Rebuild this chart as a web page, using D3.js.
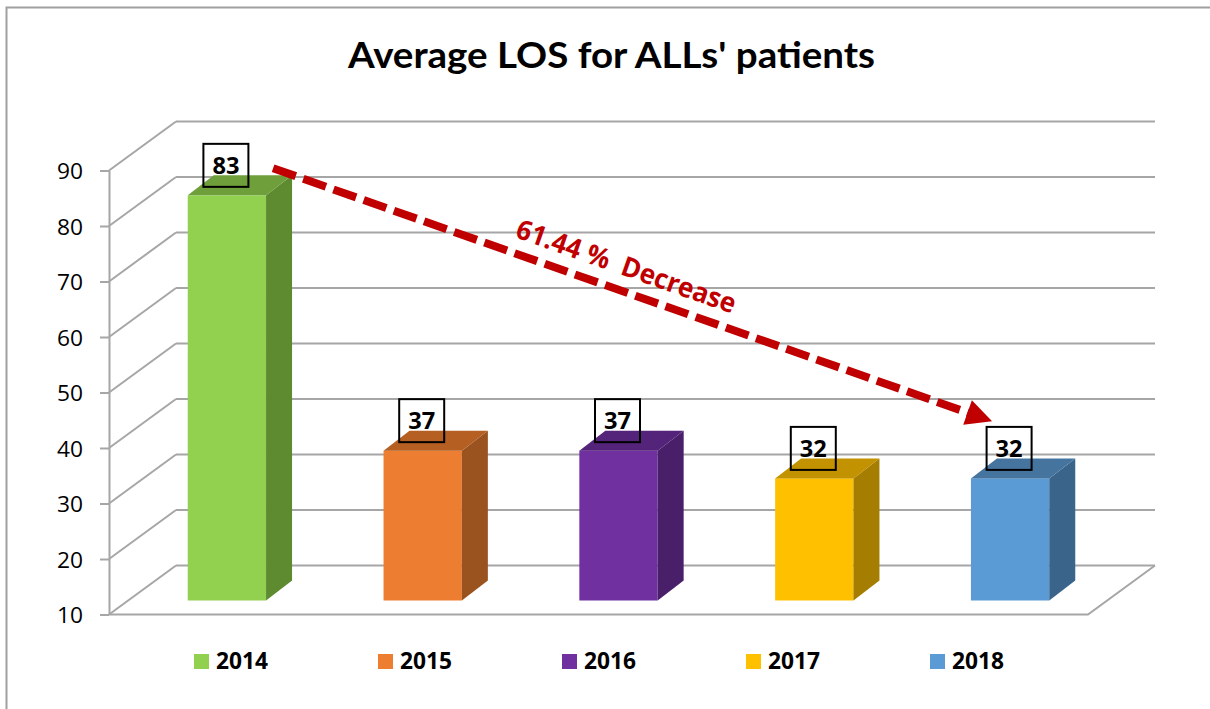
<!DOCTYPE html>
<html><head><meta charset="utf-8">
<script src="https://cdn.jsdelivr.net/npm/d3@7"></script>
<style>html,body{margin:0;padding:0;background:#fff;} svg{display:block;}</style>
</head><body><svg id="c" width="1210" height="709"></svg>
<script>
const titleText = "Average LOS for ALLs' patients";
const years = ["2014","2015","2016","2017","2018"];
const values = [83,37,37,32,32];
const frontColors = ["#92D050","#ED7D31","#7030A0","#FFC000","#5B9BD5"];
const topColors   = ["#6F9F3B","#B55F23","#54237A","#C29200","#45749F"];
const sideColors  = ["#5E8A30","#9A521E","#4A1F69","#A57D00","#3A648A"];
const yTicks = [10,20,30,40,50,60,70,80,90];
const annotationText = "61.44 %  Decrease";
const arrowFrom = {year:"2014", pos:1.09, value:87.9};
const arrowTo   = {year:"2018", pos:0.27, value:42.3};

const FONT = "'Open Sans', Lato, sans-serif";
const TFONT = "Lato, 'Open Sans', sans-serif";
const svg = d3.select("#c");
const grid = "#A6A6A6";

function fitW(sel, target){
  sel.attr("textLength", target).attr("lengthAdjust","spacingAndGlyphs");
}

// border
svg.append("path").attr("d","M6.5,709 V7.5 H1210").attr("fill","none").attr("stroke","#A0A0A0").attr("stroke-width",2);

// title
const t = svg.append("text").attr("x",611.5).attr("y",68).attr("text-anchor","middle")
  .attr("font-family",TFONT).attr("font-weight","bold").attr("font-size",37).attr("fill","#000").text(titleText);
fitW(t, 527);

// scales
const x = d3.scaleBand().domain(years).range([109,1088]).paddingInner(0.6).paddingOuter(0.3);
const y = d3.scaleLinear().domain([10,90]).range([614.5,170.5]);
const wall = {dx:67, dy:-49};
const bf = {dx:20, dy:-14};
const depth = {dx:26, dy:-20};
const x0 = 109, x1 = 1088;

const g = svg.append("g");
yTicks.forEach(v=>{
  g.append("line").attr("x1",x0+wall.dx).attr("x2",x1+wall.dx).attr("y1",y(v)+wall.dy).attr("y2",y(v)+wall.dy)
   .attr("stroke",grid).attr("stroke-width",2);
  g.append("line").attr("x1",x0).attr("x2",x0+wall.dx).attr("y1",y(v)).attr("y2",y(v)+wall.dy)
   .attr("stroke",grid).attr("stroke-width",2);
});
g.append("path").attr("d",`M${x0},${y(10)} H${x1} L${x1+wall.dx},${y(10)+wall.dy}`)
  .attr("fill","none").attr("stroke",grid).attr("stroke-width",2);

// axis
const axis = d3.axisLeft(y).tickValues(yTicks).tickSize(9).tickSizeOuter(0).tickPadding(17);
const ag = svg.append("g").attr("transform",`translate(${x0},0)`).call(axis);
ag.select(".domain").attr("stroke",grid).attr("stroke-width",2);
ag.selectAll(".tick line").attr("stroke",grid).attr("stroke-width",2);
ag.selectAll(".tick text").attr("font-family",FONT).attr("font-size",22.5).attr("fill","#000")
  .attr("dy","0.36em").attr("textLength",26).attr("lengthAdjust","spacingAndGlyphs");

// bars
const bw = x.bandwidth();
const bars = svg.append("g");
years.forEach((yr,i)=>{
  const xl = x(yr)+bf.dx, xr = xl+bw;
  const yt = y(values[i])+bf.dy, yb = y(10)+bf.dy;
  bars.append("rect").attr("x",xl).attr("y",yt).attr("width",bw).attr("height",yb-yt).attr("fill",frontColors[i]);
  bars.append("polygon").attr("points",[[xr,yt],[xr+depth.dx,yt+depth.dy],[xr+depth.dx,yb+depth.dy],[xr,yb]].map(p=>p.join(",")).join(" "))
    .attr("fill",sideColors[i]);
  bars.append("polygon").attr("points",[[xl,yt],[xl+depth.dx,yt+depth.dy],[xr+depth.dx,yt+depth.dy],[xr,yt]].map(p=>p.join(",")).join(" "))
    .attr("fill",topColors[i]);
});

// value labels
years.forEach((yr,i)=>{
  const cx = x(yr)+bf.dx+bw/2-1, cy = y(values[i])+bf.dy-30;
  svg.append("rect").attr("x",cx-22.5).attr("y",cy-21.5).attr("width",45).attr("height",43)
    .attr("fill","none").attr("stroke","#000").attr("stroke-width",2);
  const tx = svg.append("text").attr("x",cx).attr("y",cy+8.5).attr("text-anchor","middle")
    .attr("font-family",FONT).attr("font-weight","bold").attr("font-size",24).attr("fill","#000").text(values[i]);
  fitW(tx, 27);
});

// arrow annotation
const p0 = [x(arrowFrom.year)+bf.dx+arrowFrom.pos*bw, y(arrowFrom.value)+bf.dy];
const p1 = [x(arrowTo.year)+bf.dx+arrowTo.pos*bw, y(arrowTo.value)+bf.dy];
const L = Math.hypot(p1[0]-p0[0], p1[1]-p0[1]);
const u = [(p1[0]-p0[0])/L, (p1[1]-p0[1])/L];
const nrm = [u[1], -u[0]];
const headL = 26, headW = 26;
const red = "#C00000";
svg.append("line").attr("x1",p0[0]).attr("y1",p0[1]).attr("x2",p1[0]-u[0]*(headL-2)).attr("y2",p1[1]-u[1]*(headL-2))
  .attr("stroke",red).attr("stroke-width",8).attr("stroke-dasharray","24,8");
const bx = p1[0]-u[0]*headL, by = p1[1]-u[1]*headL;
svg.append("polygon").attr("points",[[p1[0],p1[1]],[bx+nrm[0]*headW/2,by+nrm[1]*headW/2],[bx-nrm[0]*headW/2,by-nrm[1]*headW/2]].map(p=>p.join(",")).join(" "))
  .attr("fill",red);
const ang = Math.atan2(u[1],u[0])*180/Math.PI;
const tt = 0.48;
const tc = [p0[0]+u[0]*L*tt + nrm[0]*25, p0[1]+u[1]*L*tt + nrm[1]*25];
const at = svg.append("text").attr("transform",`translate(${tc[0]},${tc[1]}) rotate(${ang})`)
  .attr("text-anchor","middle").attr("dy","0.36em").attr("font-family",FONT).attr("font-weight","bold")
  .attr("font-size",27.5).attr("fill",red).style("white-space","pre").text(annotationText);
fitW(at, 231);

// legend
const legendX = [194,378,562,746,930];
const lg = svg.append("g");
years.forEach((yr,i)=>{
  lg.append("rect").attr("x",legendX[i]).attr("y",654).attr("width",15).attr("height",15).attr("fill",frontColors[i]);
  const lt = lg.append("text").attr("x",legendX[i]+22).attr("y",669).attr("font-family",FONT).attr("font-weight","bold")
    .attr("font-size",23).attr("fill","#000").text(yr);
  fitW(lt, 52);
});
</script></body></html>
